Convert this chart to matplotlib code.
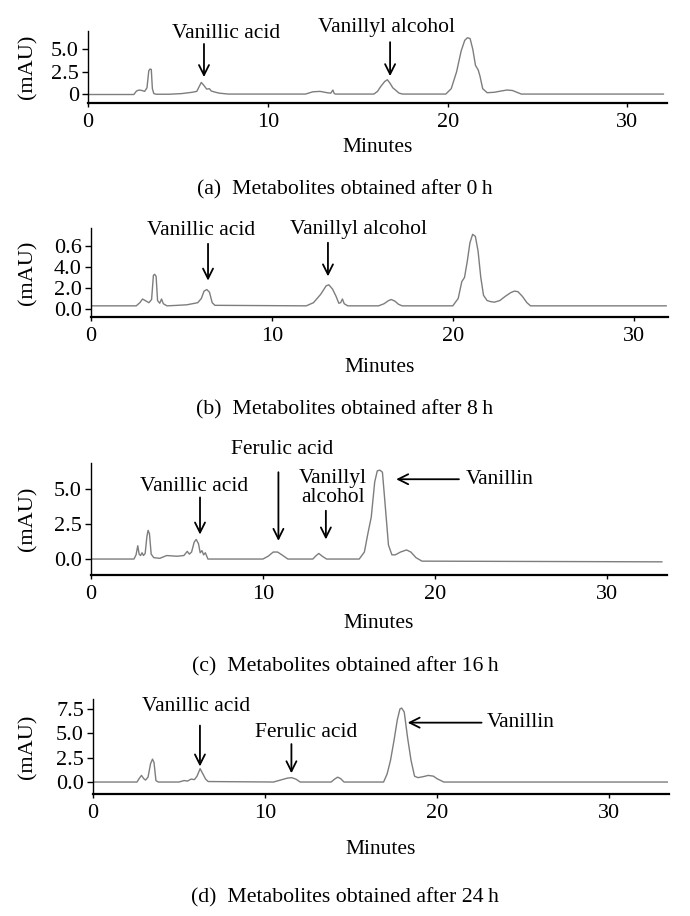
import matplotlib
matplotlib.use("Agg")
import matplotlib.pyplot as plt

plt.rcParams["font.family"] = ["Liberation Serif", "DejaVu Serif"]

# chromatogram traces (minutes, mAU)
a_time = [0, 2.55, 2.7, 2.85, 3.0, 3.15, 3.28, 3.38, 3.45, 3.52, 3.58, 3.66, 3.8, 4.5, 5.2, 5.8,
          6.05, 6.2, 6.3, 6.45, 6.6, 6.75, 6.85, 7.0, 7.3, 7.8, 12.1, 12.5, 12.9, 13.3, 13.5, 13.62,
          13.68, 13.75, 15.9, 16.1, 16.3, 16.5, 16.65, 16.8, 16.95, 17.1, 17.3, 17.5, 19.9, 20.2,
          20.5, 20.75, 20.95, 21.1, 21.25, 21.4, 21.55, 21.7, 21.8, 21.95, 22.2, 22.6, 23.0, 23.3,
          23.6, 24.1, 32.0]
a_mau = [-0.05, -0.05, 0.35, 0.45, 0.4, 0.3, 0.7, 2.6, 2.8, 2.75, 0.6, 0.05, -0.02, -0.02, 0.05, 0.2,
         0.3, 0.9, 1.3, 0.95, 0.55, 0.6, 0.35, 0.25, 0.1, 0.0, 0.0, 0.25, 0.3, 0.15, 0.1, 0.45,
         0.1, 0.0, 0.0, 0.3, 0.9, 1.4, 1.6, 1.2, 0.7, 0.45, 0.1, 0.0, 0.0, 0.6,
         2.5, 4.8, 6.0, 6.3, 6.2, 5.0, 3.2, 2.7, 2.0, 0.6, 0.15, 0.2, 0.35, 0.45,
         0.4, 0.0, 0.0]

b_time = [0, 2.5, 2.7, 2.85, 3.0, 3.2, 3.35, 3.45, 3.52, 3.6, 3.68, 3.8, 3.9, 4.0, 4.2, 4.8, 5.3,
          5.6, 5.9, 6.1, 6.25, 6.4, 6.55, 6.7, 6.85, 11.9, 12.3, 12.7, 13.0, 13.15, 13.35, 13.55,
          13.7, 13.8, 13.9, 14.0, 14.2, 15.9, 16.2, 16.45, 16.6, 16.8, 17.0, 17.2, 20.0, 20.3, 20.5,
          20.65, 20.8, 20.95, 21.1, 21.25, 21.4, 21.55, 21.7, 21.9, 22.1, 22.3, 22.6, 22.9, 23.2,
          23.4, 23.6, 23.85, 24.1, 24.3, 31.8]
b_mau = [0.3, 0.3, 0.6, 0.95, 0.8, 0.6, 0.9, 3.2, 3.3, 3.1, 0.8, 0.55, 0.95, 0.5, 0.3, 0.35, 0.4,
         0.5, 0.6, 1.0, 1.7, 1.85, 1.6, 0.6, 0.35, 0.3, 0.6, 1.4, 2.2, 2.3, 1.9, 1.2,
         0.55, 0.6, 0.95, 0.5, 0.3, 0.3, 0.5, 0.8, 0.9, 0.75, 0.45, 0.3, 0.3, 1.0, 2.6,
         3.0, 4.5, 6.3, 7.1, 6.9, 5.5, 3.0, 1.3, 0.8, 0.7, 0.65, 0.8, 1.2, 1.55,
         1.7, 1.65, 1.2, 0.6, 0.3, 0.3]

c_time = [0, 2.5, 2.62, 2.72, 2.8, 2.88, 2.97, 3.05, 3.15, 3.25, 3.32, 3.4, 3.5, 3.65, 4.0, 4.4,
          5.0, 5.4, 5.6, 5.72, 5.85, 6.0, 6.12, 6.25, 6.35, 6.45, 6.55, 6.65, 6.8, 10.0, 10.3, 10.6,
          10.85, 11.1, 11.45, 12.9, 13.1, 13.25, 13.45, 13.7, 15.6, 15.9, 16.1, 16.3, 16.5, 16.65,
          16.8, 16.95, 17.1, 17.3, 17.5, 17.7, 18.0, 18.35, 18.6, 18.9, 19.25, 33.2]
c_mau = [0, 0, 0.3, 0.95, 0.35, 0.25, 0.45, 0.25, 0.4, 1.6, 2.05, 1.8, 0.35, 0.1, 0.05, 0.25,
         0.2, 0.25, 0.55, 0.35, 0.5, 1.2, 1.4, 1.1, 0.45, 0.6, 0.3, 0.45, 0.0, 0.0, 0.2, 0.5,
         0.5, 0.3, 0.0, 0.0, 0.25, 0.4, 0.2, 0.0, 0.0, 0.5, 1.8, 3.0, 5.5, 6.3,
         6.35, 6.2, 4.0, 1.0, 0.3, 0.3, 0.5, 0.65, 0.5, 0.1, -0.15, -0.2]

d_time = [0, 2.56, 2.7, 2.82, 2.95, 3.05, 3.2, 3.35, 3.46, 3.55, 3.66, 3.8, 5.0, 5.3, 5.5, 5.7,
          5.9, 6.05, 6.23, 6.4, 6.55, 6.7, 10.5, 10.9, 11.3, 11.55, 11.8, 12.05, 13.85, 14.05,
          14.23, 14.4, 14.6, 16.9, 17.1, 17.3, 17.5, 17.7, 17.85, 17.95, 18.1, 18.3, 18.5, 18.7,
          18.9, 19.2, 19.5, 19.8, 20.0, 20.4, 33.4]
d_mau = [0, 0, 0.4, 0.68, 0.35, 0.2, 0.5, 1.9, 2.35, 2.0, 0.15, 0.0, 0.0, 0.15, 0.1, 0.3,
         0.25, 0.6, 1.37, 0.8, 0.3, 0.05, 0.0, 0.2, 0.4, 0.45, 0.3, 0.0, 0.0, 0.3,
         0.5, 0.35, 0.0, 0.0, 0.8, 2.2, 4.2, 6.4, 7.5, 7.6, 7.2, 4.5, 2.2, 0.6,
         0.45, 0.55, 0.68, 0.6, 0.35, 0.0, 0.0]

x_ticks = [0, 10, 20, 30]
y_ticks_a = [0, 2.5, 5.0]
y_labels_a = ["0", "2.5", "5.0"]
y_ticks_b = [0, 2, 4, 6]
y_labels_b = ["0.0", "2.0", "4.0", "0.6"]
y_ticks_c = [0, 2.5, 5.0]
y_labels_c = ["0.0", "2.5", "5.0"]
y_ticks_d = [0, 2.5, 5.0, 7.5]
y_labels_d = ["0.0", "2.5", "5.0", "7.5"]

captions = ["(a)  Metabolites obtained after 0\u2009h",
            "(b)  Metabolites obtained after 8\u2009h",
            "(c)  Metabolites obtained after 16\u2009h",
            "(d)  Metabolites obtained after 24\u2009h"]

# label text, text x, text y, arrow start, arrow end (data coords)
notes_a = [("Vanillic acid", 7.7, 6.8, (6.45, 5.6), (6.45, 1.9)),
           ("Vanillyl alcohol", 16.6, 7.4, (16.8, 5.8), (16.8, 2.0))]
notes_b = [("Vanillic acid", 6.1, 7.5, (6.47, 6.2), (6.47, 2.7)),
           ("Vanillyl alcohol", 14.8, 7.6, (13.1, 6.3), (13.1, 3.1))]
notes_c = [("Ferulic acid", 11.1, 7.8, (10.9, 6.2), (10.9, 1.3)),
           ("Vanillic acid", 6.0, 5.15, (6.34, 4.4), (6.34, 1.75)),
           ("Vanillyl\nalcohol", 14.05, 5.1, (13.66, 3.45), (13.66, 1.4)),
           ("Vanillin", 21.8, 5.68, (21.4, 5.7), (17.75, 5.7))]
notes_d = [("Vanillic acid", 6.0, 7.75, (6.22, 5.8), (6.22, 1.6)),
           ("Ferulic acid", 12.4, 5.1, (11.54, 3.9), (11.54, 0.9)),
           ("Vanillin", 22.9, 6.1, (22.6, 6.1), (18.3, 6.1))]

W, H = 690, 916
fig = plt.figure(figsize=(W / 100, H / 100), dpi=100)

# pixel boxes: left, right, top, bottom, xmax, ymin, ymax, minutes y, caption y
panels = [
    (a_time, a_mau, y_ticks_a, y_labels_a, notes_a, (88, 667, 31, 103, 32.2, -1.0, 7.05, 147, 190)),
    (b_time, b_mau, y_ticks_b, y_labels_b, notes_b, (91, 668, 228, 317, 31.9, -0.76, 7.7, 367, 410)),
    (c_time, c_mau, y_ticks_c, y_labels_c, notes_c, (91, 667, 463, 575, 33.5, -1.14, 6.86, 623, 667)),
    (d_time, d_mau, y_ticks_d, y_labels_d, notes_d, (93, 669, 699, 794, 33.5, -1.23, 8.53, 850, 898)),
]

for i, (t, v, yt, yl, notes, box) in enumerate(panels):
    left, right, top, bottom, xmax, ymin, ymax, min_y, cap_y = box
    ax = fig.add_axes([left / W, 1 - bottom / H, (right - left) / W, (bottom - top) / H])
    ax.plot(t, v, color="#7d7d7d", lw=1.0)
    ax.set_xlim(0, xmax)
    ax.set_ylim(ymin, ymax)
    ax.set_xticks(x_ticks)
    ax.set_yticks(yt)
    ax.set_yticklabels(yl)
    ax.spines["top"].set_visible(False)
    ax.spines["right"].set_visible(False)
    ax.spines["left"].set_linewidth(1.0)
    ax.spines["bottom"].set_linewidth(1.6)
    ax.tick_params(axis="x", length=3, width=1.0, pad=4, labelsize=16)
    ax.tick_params(axis="y", length=4.5, width=1.0, pad=2, labelsize=16)

    for label, tx, ty, start, end in notes:
        if label == "Vanillin":
            ax.text(tx, ty, label, fontsize=15.5, ha="left", va="center", clip_on=False)
        else:
            ax.text(tx, ty, label, fontsize=15.5, ha="center", va="center",
                    linespacing=1.0, clip_on=False)
        ax.annotate("", xy=end, xytext=start, annotation_clip=False,
                    arrowprops=dict(arrowstyle="->", color="black", lw=1.3,
                                    mutation_scale=18, shrinkA=0, shrinkB=0))

    fig.text(((left + right) / 2) / W, 1 - min_y / H, "Minutes", fontsize=15.5,
             ha="center", va="center")
    fig.text(28 / W, 1 - ((top + bottom) / 2) / H, "(mAU)", fontsize=16,
             rotation=90, ha="center", va="center")
    fig.text(0.5, 1 - cap_y / H, captions[i], fontsize=15.7, ha="center", va="center")

fig.savefig("out.png", dpi=100)
